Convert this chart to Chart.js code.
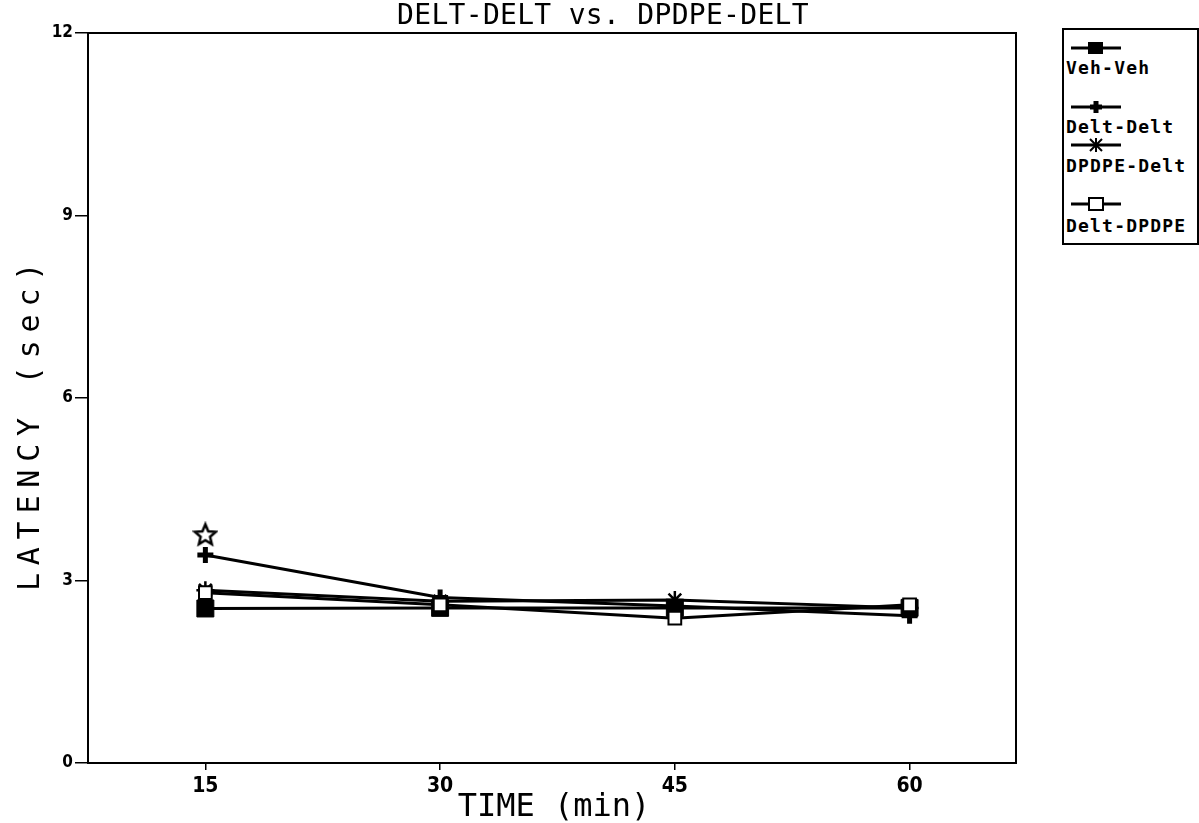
<!DOCTYPE html>
<html>
<head>
<meta charset="utf-8">
<script src="https://cdn.jsdelivr.net/npm/chart.js@4.4.1/dist/chart.umd.min.js"></script>
<style>
  html, body { margin: 0; padding: 0; background: #fff; }
  #wrap { position: relative; width: 1199px; height: 823px; overflow: hidden; }
  #chart { position: absolute; left: 0; top: 0; }
  #legend {
    position: absolute; left: 1062px; top: 28px; width: 133px; height: 213px;
    border: 2px solid #000; background: #fff;
    font-family: "DejaVu Sans Mono", monospace; font-weight: bold; font-size: 18px;
    letter-spacing: 1.2px; color: #000;
  }
  .sym { position: absolute; left: 7px; width: 50px; height: 20px; }
  .lab { position: absolute; left: 2px; white-space: nowrap; line-height: 20px; }
</style>
</head>
<body>
<div id="wrap">
  <canvas id="chart" width="1199" height="823"></canvas>
  <div id="legend"></div>
</div>
<script>
// Sampling times (min)
const times = [15, 30, 45, 60];

// Latency (sec) per treatment group
const vehVeh     = [2.54, 2.55, 2.55, 2.55];
const deltDelt   = [3.42, 2.72, 2.58, 2.42];
const dpdpeDelt  = [2.84, 2.66, 2.68, 2.55];
const deltDpdpe  = [2.80, 2.60, 2.38, 2.60];

// Single open-star point at 15 min
const starTimes  = [15];
const starValues = [3.76];

// Axis tick values
const xTicks = [15, 30, 45, 60];
const yTicks = [0, 3, 6, 9, 12];

const chartTitle = 'DELT-DELT vs. DPDPE-DELT';
const xTitle = 'TIME (min)';
const yTitle = 'LATENCY (sec)';

const seriesNames = ['Veh-Veh', 'Delt-Delt', 'DPDPE-Delt', 'Delt-DPDPE'];

const pairs = (xs, ys) => xs.map((x, i) => ({ x: x, y: ys[i] }));

// Open five-point star used as a point image
function makeStar(size) {
  const c = document.createElement('canvas');
  c.width = size; c.height = size;
  const g = c.getContext('2d');
  const cx = size / 2, cy = size / 2 + 1, R = size / 2 - 2, r = R * 0.45;
  g.beginPath();
  for (let i = 0; i < 10; i++) {
    const a = -Math.PI / 2 + i * Math.PI / 5;
    const rad = i % 2 === 0 ? R : r;
    const px = cx + rad * Math.cos(a), py = cy + rad * Math.sin(a);
    if (i === 0) g.moveTo(px, py); else g.lineTo(px, py);
  }
  g.closePath();
  g.fillStyle = '#fff'; g.fill();
  g.lineWidth = 2.5; g.strokeStyle = '#000'; g.stroke();
  return c;
}
const starImg = makeStar(26);

const base = {
  borderColor: '#000', borderWidth: 3, pointBorderColor: '#000',
  tension: 0, fill: false
};

const datasets = [
  Object.assign({}, base, {
    label: seriesNames[3], data: pairs(times, deltDpdpe),
    pointStyle: 'rect', pointRadius: 9, pointBackgroundColor: '#fff', pointBorderWidth: 2
  }),
  Object.assign({}, base, {
    label: seriesNames[2], data: pairs(times, dpdpeDelt),
    pointStyle: 'star', pointRadius: 9, pointBackgroundColor: '#000', pointBorderWidth: 2.5
  }),
  Object.assign({}, base, {
    label: seriesNames[1], data: pairs(times, deltDelt),
    pointStyle: 'cross', pointRadius: 8, pointBackgroundColor: '#000', pointBorderWidth: 5
  }),
  Object.assign({}, base, {
    label: seriesNames[0], data: pairs(times, vehVeh),
    pointStyle: 'rect', pointRadius: 12, pointBackgroundColor: '#000', pointBorderWidth: 1
  }),
  {
    label: 'open star', data: pairs(starTimes, starValues), showLine: false,
    pointStyle: starImg, pointRadius: 13
  }
];

// Frame, title and axis titles
const decor = {
  id: 'decor',
  afterDraw(chart) {
    const { ctx, chartArea: a } = chart;
    ctx.save();
    ctx.strokeStyle = '#000';
    ctx.lineWidth = 2;
    ctx.strokeRect(a.left, a.top, a.right - a.left, a.bottom - a.top);
    ctx.fillStyle = '#000';
    ctx.textBaseline = 'middle';
    ctx.textAlign = 'center';

    ctx.font = '28px "DejaVu Sans Mono"';
    ctx.letterSpacing = '0.3px';
    ctx.fillText(chartTitle, 603, 17);

    ctx.font = '32px "DejaVu Sans Mono"';
    ctx.letterSpacing = '0px';
    ctx.fillText(xTitle, 554, 808);

    ctx.translate(31, 423);
    ctx.rotate(-Math.PI / 2);
    ctx.font = '30px "DejaVu Sans Mono"';
    ctx.letterSpacing = '7.8px';
    ctx.fillText(yTitle, 0, 0);
    ctx.restore();
  }
};

new Chart(document.getElementById('chart'), {
  type: 'line',
  data: { datasets: datasets },
  plugins: [decor],
  options: {
    responsive: false,
    animation: false,
    layout: { padding: { top: 33, right: 183, left: 0, bottom: 0 } },
    plugins: { legend: { display: false }, tooltip: { enabled: false }, title: { display: false } },
    scales: {
      x: {
        type: 'linear', min: 7.5, max: 66.8,
        afterBuildTicks: s => { s.ticks = xTicks.map(v => ({ value: v })); },
        afterFit: s => { s.height = 60; },
        grid: { drawOnChartArea: false, drawTicks: true, tickLength: 7, color: '#000', lineWidth: 1.5 },
        border: { display: true, color: '#000', width: 2 },
        ticks: {
          color: '#000', padding: 4,
          font: { family: '"DejaVu Sans Condensed", "DejaVu Sans"', weight: 'bold', size: 21 },
          callback: v => String(v)
        }
      },
      y: {
        type: 'linear', min: 0, max: 12,
        afterBuildTicks: s => { s.ticks = yTicks.map(v => ({ value: v })); },
        afterFit: s => { s.width = 88; },
        grid: { drawOnChartArea: false, drawTicks: true, tickLength: 13, color: '#000', lineWidth: 1.5 },
        border: { display: true, color: '#000', width: 2 },
        ticks: {
          color: '#000', padding: 2,
          font: { family: '"DejaVu Sans Condensed", "DejaVu Sans"', weight: 'bold', size: 17 },
          callback: v => String(v)
        }
      }
    }
  }
});

// Legend: symbol on one row, name beneath it
const symbols = [
  '<rect x="17" y="4" width="15" height="12" fill="#000"/>',
  '<path d="M19 10 H31 M25 4 V16" stroke="#000" stroke-width="5"/>',
  '<path d="M19 4 L31 16 M31 4 L19 16 M25 3 V17 M18 10 H32" stroke="#000" stroke-width="2"/>',
  '<rect x="18" y="4" width="14" height="12" fill="#fff" stroke="#000" stroke-width="2"/>'
];
const symTop = [8, 67, 105, 164];
const labTop = [28, 87, 126, 186];
const legend = document.getElementById('legend');
seriesNames.forEach((name, i) => {
  const s = document.createElement('div');
  s.className = 'sym';
  s.style.top = symTop[i] + 'px';
  s.innerHTML = '<svg width="50" height="20"><line x1="0" y1="10" x2="50" y2="10" stroke="#000" stroke-width="3"/>' + symbols[i] + '</svg>';
  legend.appendChild(s);
  const l = document.createElement('div');
  l.className = 'lab';
  l.style.top = labTop[i] + 'px';
  l.textContent = name;
  legend.appendChild(l);
});
</script>
</body>
</html>
